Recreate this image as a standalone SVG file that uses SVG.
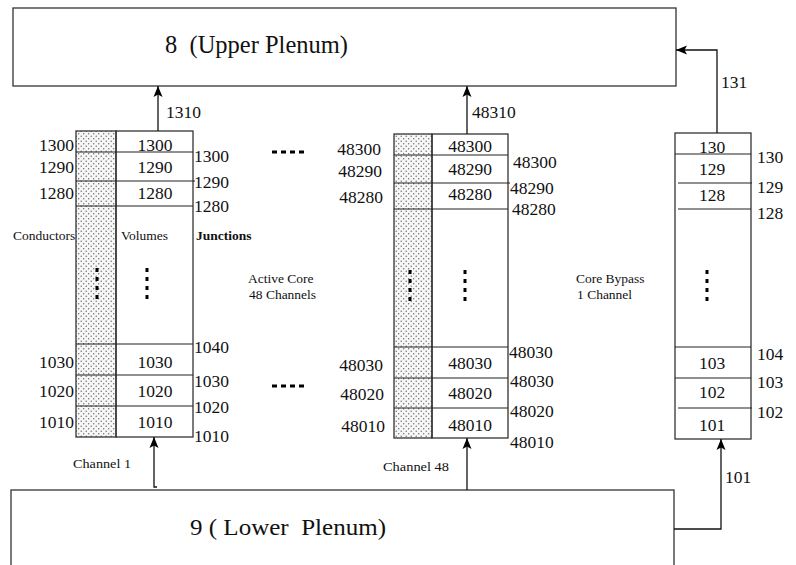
<svg xmlns="http://www.w3.org/2000/svg" width="796" height="565" viewBox="0 0 796 565">
<style>
text{font-family:'Liberation Serif','Times New Roman',serif;fill:#111}
.n{font-size:17.5px}
.s{font-size:13.5px}
.b{font-weight:bold}
.mid{text-anchor:middle}
.end{text-anchor:end}
.box{fill:none;stroke:#333;stroke-width:1.3}
.cond{fill:url(#dots);stroke:#333;stroke-width:1.3}
.row{stroke:#222;stroke-width:1.2}
.vdots{stroke:#000;stroke-width:3;stroke-dasharray:4 5}
.hdots{stroke:#000;stroke-width:3;stroke-dasharray:5 4}
.conn{fill:none;stroke:#111;stroke-width:1.3}
.arr{marker-end:url(#ah)}
</style>
<defs>
<pattern id="dots" width="5" height="5" patternUnits="userSpaceOnUse">
<rect width="5" height="5" fill="#f7f7f7"/>
<circle cx="1.2" cy="1.2" r="0.7" fill="#666"/>
<circle cx="3.7" cy="3.7" r="0.7" fill="#666"/>
</pattern>
<marker id="ah" markerUnits="userSpaceOnUse" markerWidth="12" markerHeight="10" viewBox="0 -5 12 10" refX="11" refY="0" orient="auto">
<path d="M0,-4.5 L11,0 L0,4.5 L2.5,0 Z" fill="#000"/>
</marker>
</defs>
<rect width="796" height="565" fill="#fff"/>

<g id="upper-plenum">
<rect class="box" x="13" y="8" width="663" height="78"/>
<text x="165" y="53" font-size="25" textLength="183" lengthAdjust="spacingAndGlyphs" xml:space="preserve">8  (Upper Plenum)</text>
</g>

<g id="lower-plenum">
<rect class="box" x="11" y="490" width="663" height="100"/>
<text x="190" y="535" font-size="24" textLength="196" lengthAdjust="spacingAndGlyphs" xml:space="preserve">9 ( Lower  Plenum)</text>
</g>

<g id="channel-1">
<rect class="cond" x="76" y="131" width="40" height="306"/>
<rect class="box" x="116" y="131" width="77" height="306"/>
<line class="row" x1="76" y1="152" x2="193" y2="152"/>
<line class="row" x1="76" y1="181" x2="195" y2="181"/>
<line class="row" x1="76" y1="206" x2="193" y2="206"/>
<line class="row" x1="76" y1="344" x2="193" y2="344"/>
<line class="row" x1="76" y1="375" x2="193" y2="375"/>
<line class="row" x1="76" y1="406" x2="193" y2="406"/>
<line class="vdots" x1="97" y1="268" x2="97" y2="303"/>
<line class="vdots" x1="147" y1="268" x2="147" y2="303"/>
<text class="n end" x="74" y="151">1300</text>
<text class="n end" x="74" y="173">1290</text>
<text class="n end" x="74" y="199">1280</text>
<text class="n end" x="74" y="368">1030</text>
<text class="n end" x="74" y="397">1020</text>
<text class="n end" x="74" y="428">1010</text>
<text class="n mid" x="155" y="151">1300</text>
<text class="n mid" x="155" y="173">1290</text>
<text class="n mid" x="155" y="199">1280</text>
<text class="n mid" x="155" y="368">1030</text>
<text class="n mid" x="155" y="397">1020</text>
<text class="n mid" x="155" y="428">1010</text>
<text class="n" x="194" y="162">1300</text>
<text class="n" x="194" y="188">1290</text>
<text class="n" x="194" y="212">1280</text>
<text class="n" x="194" y="353">1040</text>
<text class="n" x="194" y="387">1030</text>
<text class="n" x="194" y="413">1020</text>
<text class="n" x="194" y="442">1010</text>
<text class="s" x="13" y="240">Conductors</text>
<text class="s" x="121" y="240">Volumes</text>
<text class="s b" x="196" y="240">Junctions</text>
<text x="73" y="468" font-size="13" textLength="58" lengthAdjust="spacingAndGlyphs">Channel 1</text>
</g>

<g id="channel-48">
<rect class="cond" x="394" y="134" width="38" height="304"/>
<rect class="box" x="432" y="134" width="76" height="304"/>
<line class="row" x1="394" y1="155" x2="508" y2="155"/>
<line class="row" x1="394" y1="183" x2="510" y2="183"/>
<line class="row" x1="394" y1="209" x2="508" y2="209"/>
<line class="row" x1="394" y1="347" x2="508" y2="347"/>
<line class="row" x1="394" y1="378" x2="508" y2="378"/>
<line class="row" x1="394" y1="408" x2="508" y2="408"/>
<line class="vdots" x1="410" y1="270" x2="410" y2="304"/>
<line class="vdots" x1="465" y1="270" x2="465" y2="304"/>
<text class="n end" x="381" y="155">48300</text>
<text class="n end" x="382" y="177">48290</text>
<text class="n end" x="383" y="203">48280</text>
<text class="n end" x="383" y="371">48030</text>
<text class="n end" x="384" y="400">48020</text>
<text class="n end" x="385" y="432">48010</text>
<text class="n mid" x="470" y="152">48300</text>
<text class="n mid" x="470" y="175">48290</text>
<text class="n mid" x="470" y="200">48280</text>
<text class="n mid" x="470" y="369">48030</text>
<text class="n mid" x="470" y="399">48020</text>
<text class="n mid" x="470" y="431">48010</text>
<text class="n" x="513" y="168">48300</text>
<text class="n" x="510" y="194">48290</text>
<text class="n" x="512" y="215">48280</text>
<text class="n" x="509" y="358">48030</text>
<text class="n" x="510" y="387">48030</text>
<text class="n" x="510" y="417">48020</text>
<text class="n" x="510" y="448">48010</text>
<text x="383" y="471" font-size="13" textLength="66" lengthAdjust="spacingAndGlyphs">Channel 48</text>
</g>

<g id="core-bypass">
<rect class="box" x="675" y="133" width="76" height="306"/>
<line class="row" x1="675" y1="154" x2="751" y2="154"/>
<line class="row" x1="678" y1="183" x2="752" y2="183"/>
<line class="row" x1="678" y1="209" x2="751" y2="209"/>
<line class="row" x1="675" y1="347" x2="751" y2="347"/>
<line class="row" x1="675" y1="378" x2="751" y2="378"/>
<line class="row" x1="678" y1="408" x2="752" y2="408"/>
<line class="vdots" x1="707" y1="270" x2="707" y2="304"/>
<text class="n mid" x="712" y="153">130</text>
<text class="n mid" x="712" y="175">129</text>
<text class="n mid" x="712" y="201">128</text>
<text class="n mid" x="712" y="369">103</text>
<text class="n mid" x="712" y="398">102</text>
<text class="n mid" x="712" y="431">101</text>
<text class="n" x="757" y="163">130</text>
<text class="n" x="757" y="193">129</text>
<text class="n" x="757" y="219">128</text>
<text class="n" x="757" y="360">104</text>
<text class="n" x="757" y="388">103</text>
<text class="n" x="757" y="418">102</text>
</g>

<g id="annotations">
<line class="hdots" x1="272" y1="152" x2="304" y2="152"/>
<line class="hdots" x1="272" y1="386" x2="304" y2="386"/>
<text class="s" x="248" y="283">Active Core</text>
<text class="s" x="249" y="299">48 Channels</text>
<text class="s" x="576" y="283">Core Bypass</text>
<text class="s" x="577" y="299">1 Channel</text>
</g>

<g id="connectors">
<line class="conn arr" x1="158" y1="131" x2="158" y2="86"/>
<text class="n" x="166" y="118">1310</text>
<line class="conn arr" x1="467" y1="134" x2="467" y2="86"/>
<text class="n" x="472" y="118">48310</text>
<polyline class="conn arr" points="717,133 717,50 676,50"/>
<text class="n" x="721" y="88">131</text>
<polyline class="conn arr" points="157,487 154,487 154,437"/>
<line class="conn arr" x1="467" y1="490" x2="467" y2="438"/>
<polyline class="conn arr" points="674,529 721,529 721,439"/>
<text class="n" x="725" y="483">101</text>
</g>
</svg>
